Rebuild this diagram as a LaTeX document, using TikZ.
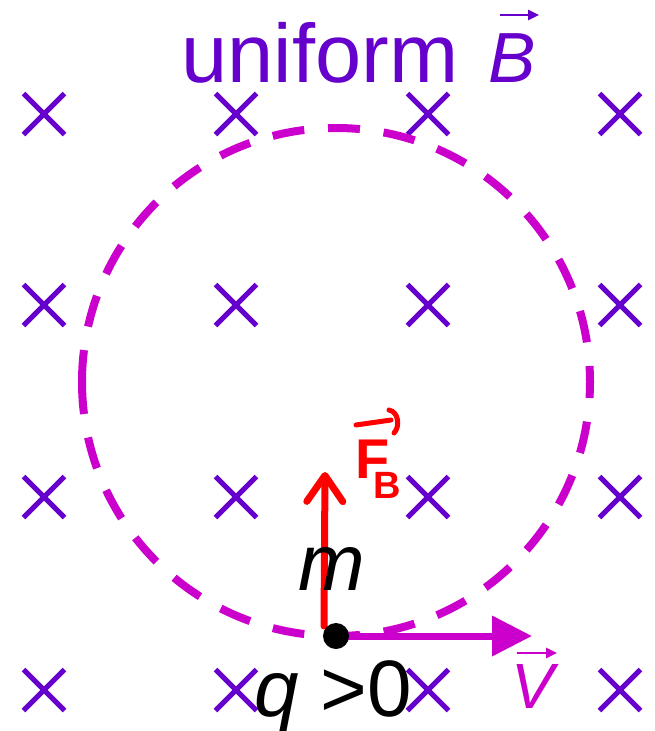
\documentclass[tikz,border=0pt]{standalone}
\usepackage{fontspec}
\setmainfont{Liberation Sans}
\usetikzlibrary{arrows.meta,shapes.misc}
\definecolor{bpurple}{HTML}{6600CC}
\definecolor{cmag}{HTML}{CC00CC}
\definecolor{fred}{HTML}{FF0000}
\begin{document}
\begin{tikzpicture}[x=1pt,y=-1pt,
  crossmark/.style={draw=bpurple, cross out, line width=5pt, minimum size=36pt, inner sep=0pt},
  lbl/.style={inner sep=0pt, anchor=base},
  smallvec/.style={line width=2.5pt, -{Triangle[length=11pt,width=10pt]}},
  dotmark/.style={circle, fill=black, inner sep=0pt, minimum size=26pt},
]
\useasboundingbox (0,0) rectangle (654,731);
% field crosses
\foreach \i/\x in {1/44,2/236,3/428,4/620}
  \foreach \j/\y in {1/114,2/305,3/497,4/690}
    \node[crossmark] (x\i\j) at (\x,\y) {};
% title
\node[lbl, bpurple, font=\fontsize{83}{90}\selectfont] (title) at (320,82) {uniform};
\node[lbl, bpurple, font=\fontsize{71}{80}\selectfont\itshape] (Bvec) at (512,82) {B};
\draw[bpurple, smallvec] (500,15) -- (539,15);
% orbit
\coordinate (c) at (336,382);
\draw[cmag, line width=8pt, dash pattern=on 32pt off 23.86pt]
  (c) ++(-254,0) arc[start angle=180, end angle=540, radius=254];
% particle position
\coordinate (p) at (336,636);
\coordinate (vtip) at (532,636);
\draw[cmag, line width=7pt, -{Triangle[length=40pt,width=39pt]}] (p) -- (vtip);
% force arrow
\coordinate (fbase) at (324,626);
\coordinate (ftip) at (325,472);
\draw[fred, line width=7pt, line cap=round, -{Straight Barb[length=26pt,width=36pt,round]}] (fbase) -- (ftip);
% force label
\node[lbl, fred, font=\fontsize{56}{60}\selectfont\bfseries] (F) at (373,478) {F};
\node[lbl, fred, font=\fontsize{38}{40}\selectfont\bfseries] (Fsub) at (387,498) {B};
\draw[fred, line width=5pt, line cap=round] (356,425) -- (391,420);
\draw[fred, line width=5pt, line cap=round] (389,410) .. controls (399,412) and (400,427) .. (394,433);
% particle
\node[dotmark] (q) at (p) {};
\node[lbl, font=\fontsize{80}{86}\selectfont\itshape] (mlabel) at (332,590) {m};
\node[lbl, font=\fontsize{80}{86}\selectfont] (qlabel) at (333,716) {\textit{q} >0};
% velocity label
\node[lbl, cmag, font=\fontsize{64}{70}\selectfont\itshape] (vlabel) at (533,708) {V};
\draw[cmag, smallvec] (517,653) -- (557,653);
\end{tikzpicture}
\end{document}
